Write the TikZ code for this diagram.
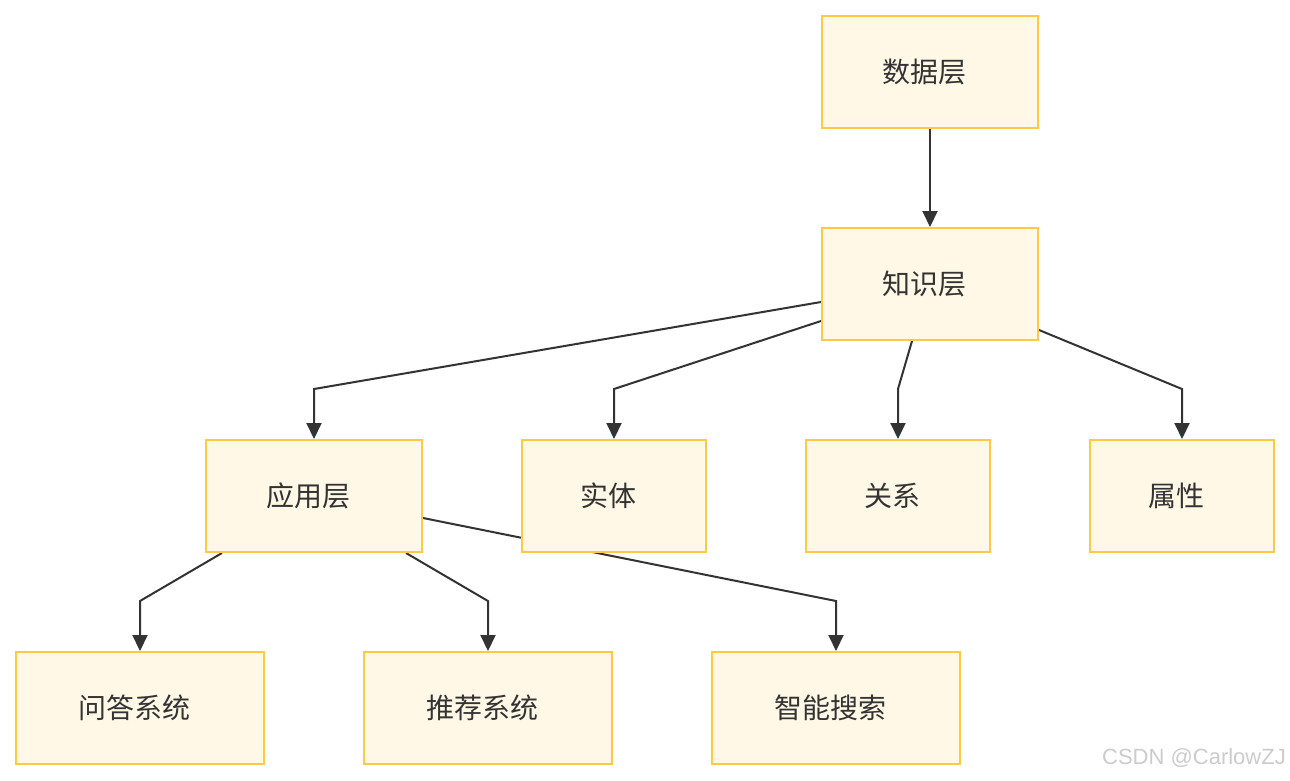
\documentclass[tikz,border=0pt]{standalone}
\usepackage{fontspec}
\newfontfamily\cjk{Noto Sans CJK SC}
\newfontfamily\wmfont{Liberation Sans}
\usetikzlibrary{arrows.meta}
\definecolor{boxfill}{HTML}{FFF8E6}
\definecolor{boxline}{HTML}{FFC845}
\definecolor{edgecol}{HTML}{333333}
\definecolor{txtcol}{HTML}{333333}
\definecolor{wmcol}{HTML}{CCCCCC}
\newcommand{\lbl}[1]{#1\hspace*{12pt}}
\tikzset{
  box/.style={draw=boxline, fill=boxfill, line width=2pt, minimum height=112pt, inner sep=0pt,
    font=\cjk\fontsize{28pt}{32pt}\selectfont, text=txtcol},
  wide/.style={box, minimum width=216pt},
  narrow/.style={box, minimum width=184pt},
  leaf/.style={box, minimum width=248pt},
  ghost/.style={draw=none, fill=none},
  edge/.style={draw=edgecol, line width=2pt, -{Triangle[length=16pt,width=15pt]}},
}
\begin{document}
\begin{tikzpicture}[x=1pt,y=-1pt]
\useasboundingbox (0,0) rectangle (1290,780);
\fill[white] (0,0) rectangle (1290,780);
% bend points of edges
\coordinate (p1) at (314,389);
\coordinate (p2) at (614,389);
\coordinate (p3) at (898,389);
\coordinate (p4) at (1182,389);
\coordinate (q1) at (140,601);
\coordinate (q2) at (488,601);
\coordinate (q3) at (836,601);
% node geometry for edges
\path (930,72) node[wide, ghost] (d0) {};
\path (930,284) node[wide, ghost] (k0) {};
\path (314,496) node[wide, ghost] (a0) {};
\path (614,496) node[narrow, ghost] (e0) {};
\path (898,496) node[narrow, ghost] (r0) {};
\path (1182,496) node[narrow, ghost] (s0) {};
\path (140,708) node[leaf, ghost] (w0) {};
\path (488,708) node[leaf, ghost] (t0) {};
\path (836,708) node[leaf, ghost] (z0) {};
% edges
\draw[edge] (d0.south) -- (k0.north);
\draw[edge] ([yshift=-18pt]k0.west) -- (p1) -- (a0.north);
\draw[edge] ([yshift=-37pt]k0.west) -- (p2) -- (e0.north);
\draw[edge] ([xshift=-18pt]k0.south) -- (p3) -- (r0.north);
\draw[edge] ([yshift=-46pt]k0.east) -- (p4) -- (s0.north);
\draw[edge] ([xshift=-92pt]a0.south) -- (q1) -- (w0.north);
\draw[edge] ([xshift=92pt]a0.south) -- (q2) -- (t0.north);
\draw[edge] ([yshift=-22pt]a0.east) -- (q3) -- (z0.north);
% nodes
\node[wide] (d) at (d0) {\lbl{数据层}};
\node[wide] (k) at (k0) {\lbl{知识层}};
\node[wide] (a) at (a0) {\lbl{应用层}};
\node[narrow] (e) at (e0) {\lbl{实体}};
\node[narrow] (r) at (r0) {\lbl{关系}};
\node[narrow] (s) at (s0) {\lbl{属性}};
\node[leaf] (w) at (w0) {\lbl{问答系统}};
\node[leaf] (t) at (t0) {\lbl{推荐系统}};
\node[leaf] (z) at (z0) {\lbl{智能搜索}};
% watermark
\node[anchor=east, font=\wmfont\fontsize{22pt}{26pt}\selectfont, text=wmcol, inner sep=0pt] (wm) at (1286,758) {CSDN @CarlowZJ};
\end{tikzpicture}
\end{document}
